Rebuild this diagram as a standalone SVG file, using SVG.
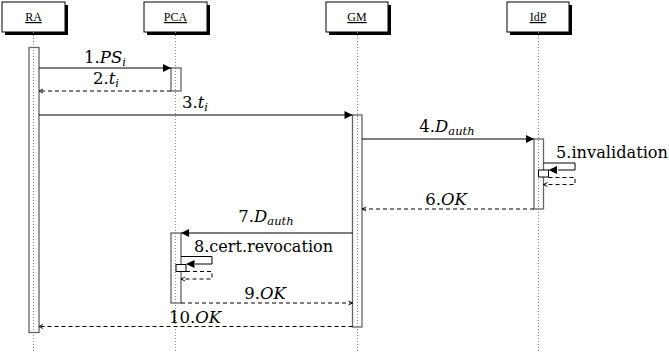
<svg xmlns="http://www.w3.org/2000/svg" width="669" height="358" viewBox="0 0 669 358">
<defs>
<marker id="solid" viewBox="0 0 10 10" refX="10" refY="5" markerWidth="9" markerHeight="8" markerUnits="userSpaceOnUse" orient="auto">
<path d="M0,0 L10,5 L0,10 Z" fill="#000"/>
</marker>
<marker id="open" viewBox="0 0 10 10" refX="9" refY="5" markerWidth="5" markerHeight="6" markerUnits="userSpaceOnUse" orient="auto">
<path d="M1,1 L9,5 L1,9" fill="none" stroke="#000" stroke-width="1.8"/>
</marker>
</defs>
<style>
.hdr{fill:#fff;stroke:#000;stroke-width:1}
.shadow{fill:#000}
.life{stroke:#888;stroke-width:1;stroke-dasharray:1,2}
.act{fill:none;stroke:#666;stroke-width:1.3}
.nest{fill:#fff;stroke:#000;stroke-width:1}
.call{fill:none;stroke:#000;stroke-width:1;marker-end:url(#solid)}
.self{fill:none;stroke:#000;stroke-width:1}
.ret{fill:none;stroke:#000;stroke-width:1;stroke-dasharray:4,3;marker-end:url(#open)}
</style>
<rect width="669" height="358" fill="#fff"/>
<g id="RA">
<rect class="shadow" x="5" y="5" width="63" height="30"/>
<rect class="hdr" x="2" y="2" width="63" height="30"/>
<text x="33.5" y="21" font-family="Liberation Serif" font-size="12" text-anchor="middle" text-decoration="underline">RA</text>
<line class="life" x1="33.5" y1="32" x2="33.5" y2="352"/>
<rect class="act" x="29" y="47.5" width="10" height="285"/>
</g>
<g id="PCA">
<rect class="shadow" x="147" y="5" width="63" height="30"/>
<rect class="hdr" x="144" y="2" width="63" height="30"/>
<text x="175.5" y="21" font-family="Liberation Serif" font-size="12" text-anchor="middle" text-decoration="underline">PCA</text>
<line class="life" x1="175.5" y1="32" x2="175.5" y2="352"/>
<rect class="act" x="171" y="68" width="10" height="23"/>
<rect class="act" x="171" y="233" width="10" height="70"/>
</g>
<g id="GM">
<rect class="shadow" x="329" y="5" width="62" height="30"/>
<rect class="hdr" x="326" y="2" width="62" height="30"/>
<text x="357" y="21" font-family="Liberation Serif" font-size="12" text-anchor="middle" text-decoration="underline">GM</text>
<line class="life" x1="357.5" y1="32" x2="357.5" y2="352"/>
<rect class="act" x="352.5" y="115" width="9.5" height="212"/>
</g>
<g id="IdP">
<rect class="shadow" x="510" y="5" width="62" height="30"/>
<rect class="hdr" x="507" y="2" width="62" height="30"/>
<text x="538" y="21" font-family="Liberation Serif" font-size="12" text-anchor="middle" text-decoration="underline">IdP</text>
<line class="life" x1="538.5" y1="32" x2="538.5" y2="352"/>
<rect class="act" x="534" y="139" width="9.5" height="70"/>
</g>
<g id="connectors">
<line class="call" x1="39" y1="68" x2="171" y2="68"/>
<line class="ret" x1="171" y1="91" x2="39" y2="91"/>
<line class="call" x1="39" y1="115" x2="352.5" y2="115"/>
<line class="call" x1="362" y1="139" x2="534" y2="139"/>
<path class="self" d="M543.5,163 H575 V170 H558"/>
<path d="M548.5,170 L557,166 L557,174 Z" fill="#000"/>
<rect class="nest" x="538.5" y="170" width="10" height="7"/>
<path class="ret" d="M548.5,177.5 H575 V184.5 H543.5"/>
<line class="ret" x1="534" y1="209" x2="362" y2="209"/>
<line class="call" x1="352.5" y1="233" x2="181" y2="233"/>
<path class="self" d="M181,256.5 H212 V264 H195"/>
<path d="M186,264 L194.5,260 L194.5,268 Z" fill="#000"/>
<rect class="nest" x="176" y="264.5" width="10" height="7"/>
<path class="ret" d="M186,271.5 H212 V279 H181"/>
<line class="ret" x1="181" y1="303" x2="352.5" y2="303"/>
<line class="ret" x1="352.5" y1="326.5" x2="39" y2="326.5"/>
</g>
<g id="labels" font-size="16.5" text-anchor="middle">
<text x="105" y="63" font-family="DejaVu Serif">1.<tspan font-style="italic">PS</tspan><tspan font-style="italic" font-size="11.5" dy="3">i</tspan></text>
<text x="106" y="84" font-family="DejaVu Serif">2.<tspan font-style="italic">t</tspan><tspan font-style="italic" font-size="11.5" dy="3">i</tspan></text>
<text x="195" y="108" font-family="DejaVu Serif">3.<tspan font-style="italic">t</tspan><tspan font-style="italic" font-size="11.5" dy="3">i</tspan></text>
<text x="447" y="132" font-family="DejaVu Serif">4.<tspan font-style="italic">D</tspan><tspan font-style="italic" font-size="11.5" dy="3">auth</tspan></text>
<text x="612" y="158" font-family="DejaVu Serif" textLength="112" lengthAdjust="spacingAndGlyphs">5.invalidation</text>
<text x="446" y="205" font-family="DejaVu Serif">6.<tspan font-style="italic">OK</tspan></text>
<text x="266" y="222" font-family="DejaVu Serif">7.<tspan font-style="italic">D</tspan><tspan font-style="italic" font-size="11.5" dy="3">auth</tspan></text>
<text x="263.5" y="252" font-family="DejaVu Serif" textLength="139" lengthAdjust="spacingAndGlyphs">8.cert.revocation</text>
<text x="265" y="299" font-family="DejaVu Serif">9.<tspan font-style="italic">OK</tspan></text>
<text x="195" y="323" font-family="DejaVu Serif">10.<tspan font-style="italic">OK</tspan></text>
</g>
</svg>
